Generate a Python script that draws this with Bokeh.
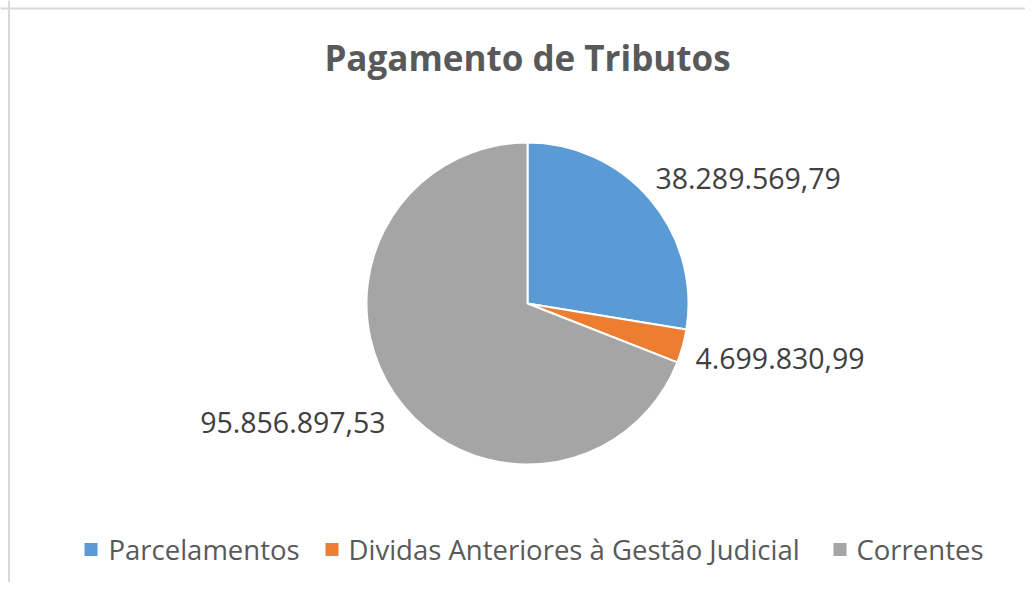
import math
from bokeh.plotting import figure
from bokeh.models import Range1d, ColumnDataSource, Span
from bokeh.core.properties import value
from bokeh.embed import file_html
from bokeh.resources import INLINE

# ---- data ----
categories = ["Parcelamentos", "Dividas Anteriores à Gestão Judicial", "Correntes"]
values = [38289569.79, 4699830.99, 95856897.53]
colors = ["#5B9BD5", "#ED7D31", "#A5A5A5"]
title_text = "Pagamento de Tributos"

# ---- layout (pixel coordinates; y measured from the top) ----
W, H = 1025, 582
cx, cy, R = 527, 303, 161
label_xy = [(655, 178), (695, 358), (385, 422)]
label_align = ["left", "left", "right"]
legend_sq_x = [90.5, 331.5, 839.5]
legend_txt_x = [108, 348, 856]
legend_y = 549

def Y(ypix):
    return H - ypix

def fmt_br(v):
    s = f"{v:,.2f}"
    return s.replace(",", "X").replace(".", ",").replace("X", ".")

total = sum(values)
starts, ends = [], []
cum = 0.0
for v in values:
    a0 = math.pi / 2 - 2 * math.pi * cum / total
    cum += v
    a1 = math.pi / 2 - 2 * math.pi * cum / total
    starts.append(a0)
    ends.append(a1)

p = figure(width=W, height=H, output_backend="svg", toolbar_location=None,
           x_range=Range1d(0, W), y_range=Range1d(0, H),
           min_border=0, min_border_left=0, min_border_right=0,
           min_border_top=0, min_border_bottom=0)
p.axis.visible = False
p.grid.visible = False
p.outline_line_color = None
p.background_fill_color = "white"
p.border_fill_color = "white"

# chart border (left and top visible in reference)
p.add_layout(Span(location=8.5, dimension="height", line_color="#D9D9D9", line_width=2))
p.add_layout(Span(location=Y(8), dimension="width", line_color="#D9D9D9", line_width=2))

src = ColumnDataSource(dict(cat=categories, val=values, color=colors,
                            start=starts, end=ends))
p.wedge(x=cx, y=Y(cy), radius=R, start_angle="start", end_angle="end",
        direction="clock", fill_color="color", line_color="white",
        line_width=2, source=src)

# data labels
for i, v in enumerate(values):
    lx, ly = label_xy[i]
    p.text(x=[lx], y=[Y(ly)], text=[fmt_br(v)], text_align=label_align[i],
           text_baseline="middle", text_font=value("Open Sans"),
           text_font_size="28.5px", text_color="#404040")

# title
p.text(x=[527], y=[Y(57)], text=[title_text], text_align="center",
       text_baseline="middle", text_font=value("Open Sans"),
       text_font_style="bold", text_font_size="35px", text_color="#595959")

# legend
for i, c in enumerate(categories):
    p.rect(x=[legend_sq_x[i]], y=[Y(legend_y)], width=13, height=13,
           fill_color=colors[i], line_color=None)
    p.text(x=[legend_txt_x[i]], y=[Y(legend_y)], text=[c], text_align="left",
           text_baseline="middle", text_font=value("Open Sans"),
           text_font_size="27.5px", text_color="#595959")

open("out.html", "w").write(file_html(p, INLINE))
